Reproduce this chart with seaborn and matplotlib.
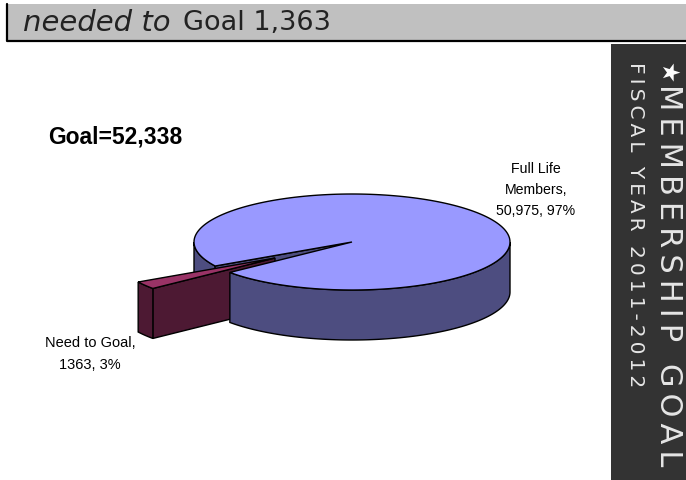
import numpy as np
import matplotlib
matplotlib.use("Agg")
import matplotlib.pyplot as plt
import seaborn as sns

# data
slice_names = ["Full Life\nMembers,\n50,975, 97%", "Need to Goal,\n1363, 3%"]
full_life = 50975
need_to_goal = 1363
goal_text = "Goal=52,338"
top_colors = ["#9999FF", "#993366"]
side_colors = ["#4D4D80", "#4D1933"]

sns.set_theme(style="white")
plt.rcParams['font.family'] = ['Liberation Sans', 'DejaVu Sans']

fig, ax = plt.subplots(figsize=(6.86, 4.8), dpi=100)
fig.subplots_adjust(0, 0, 1, 1)
ax.set_xlim(0, 686)
ax.set_ylim(480, 0)
ax.axis("off")

# fake 3d pie: ellipse geometry, angles come from the values
# y axis is inverted so angles run clockwise on screen
cx, cy = 352, 242
rx, ry = 158, 48
depth = 50
end = 150
span = 360 * need_to_goal / (full_life + need_to_goal)
start = end - span
shift_x, shift_y = -77, 16


def rim(a0, a1, dx=0, dy=0):
    t = np.radians(np.linspace(a0, a1, 200))
    return cx + dx + rx * np.cos(t), cy + dy + ry * np.sin(t)


def wall(x, y, color, z):
    xs = np.concatenate([x, x[::-1]])
    ys = np.concatenate([y, y[::-1] + depth])
    ax.fill(xs, ys, facecolor=color, edgecolor="black", lw=1, zorder=z)


# back left wall of the big slice + cut face seen through the gap
x, y = rim(end, 180)
wall(x, y, side_colors[0], 2)
x, y = rim(end, end)
wall(np.array([cx, x[0]]), np.array([cy, y[0]]), side_colors[0], 2)

# pulled out small slice
x, y = rim(start, end, shift_x, shift_y)
wall(np.array([cx + shift_x, x[0]]), np.array([cy + shift_y, y[0]]), side_colors[1], 3)
wall(x, y, side_colors[1], 3)
ax.fill(np.r_[cx + shift_x, x], np.r_[cy + shift_y, y],
        facecolor=top_colors[1], edgecolor="black", lw=1, zorder=4)

# big slice on top of it
x, y = rim(0, start)
wall(x, y, side_colors[0], 5)
x, y = rim(end, start + 360)
ax.fill(np.r_[cx, x], np.r_[cy, y], facecolor=top_colors[0],
        edgecolor="black", lw=1, zorder=6)

# header bar and side band
ax.fill_between([6, 686], 4, 40, color="#C0C0C0", lw=0, zorder=1)
ax.plot([7, 7, 686], [4, 40.5, 40.5], color="black", lw=1.6, zorder=2)
ax.fill_between([611, 686], 44, 480, color="#333333", lw=0, zorder=1)

head = ["DejaVu Sans"]
ax.text(23, 23, "needed to", family=head, style="italic", fontsize=21,
        color="#222222", va="center", ha="left")
ax.text(183, 23, "Goal 1,363", family=head, fontsize=19.5,
        color="#222222", va="center", ha="left")

# spaced out with hair spaces, like the tracking on the band
band1 = "\u200a\u200a".join("MEMBERSHIP GOAL")
band2 = "\u200a\u200a".join("FISCAL YEAR 2011-2012")
ax.text(668, 62, "\u2605", family=head, fontsize=17, color="white",
        rotation=270, va="top", ha="center")
ax.text(668, 84, band1, family=head, fontsize=22, color="#E6E6E6",
        rotation=270, va="top", ha="center")
ax.text(636, 62, band2, family=head, fontsize=14.5, color="#E6E6E6",
        rotation=270, va="top", ha="center")

# labels
ax.text(48, 137, goal_text, fontsize=16.5, fontweight="bold", color="black",
        va="center", ha="left")
ax.text(536, 190, slice_names[0], fontsize=10.2, color="black", va="center",
        ha="center", linespacing=1.65)
ax.text(90, 354, slice_names[1], fontsize=10.5, color="black", va="center",
        ha="center", linespacing=1.65)

fig.savefig("out.png", dpi=100)
